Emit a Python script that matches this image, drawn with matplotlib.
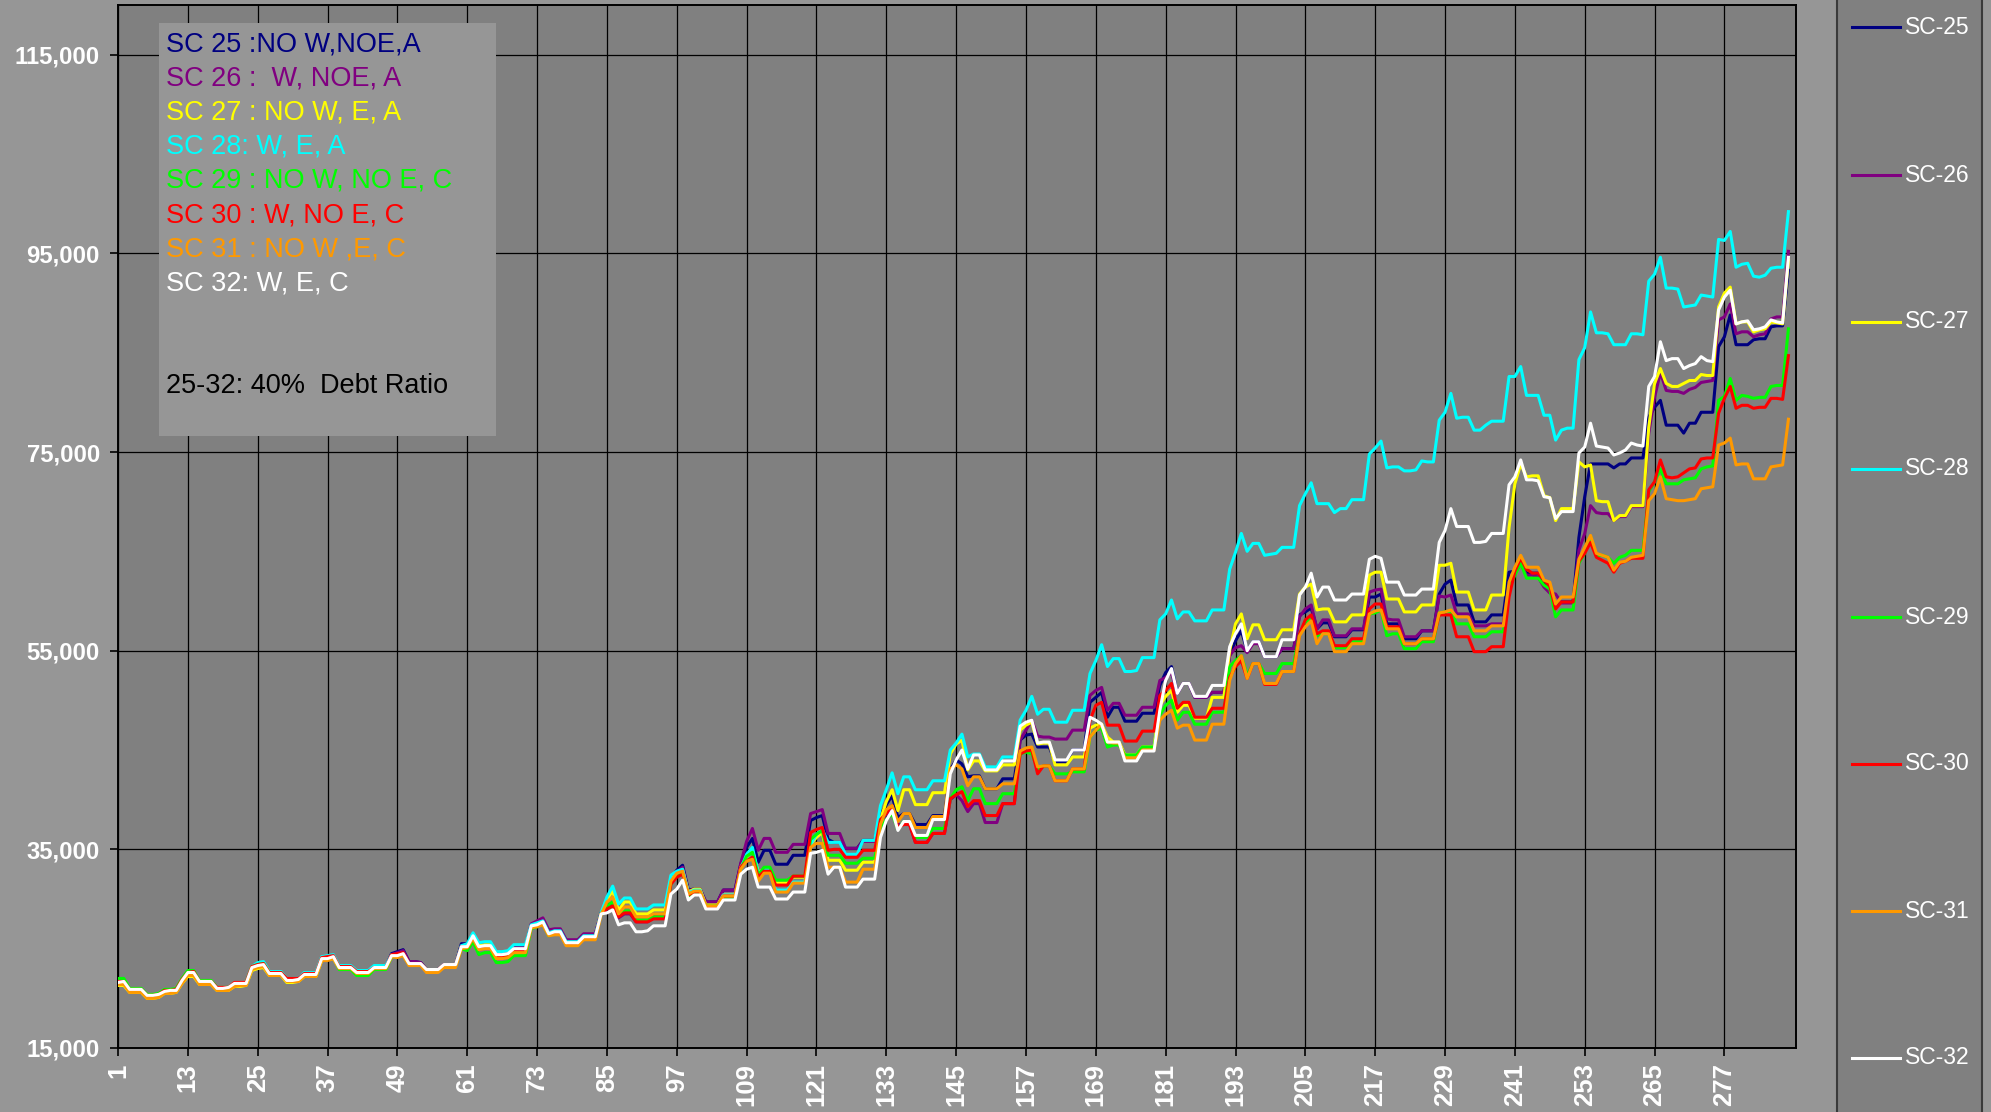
import numpy as np
import matplotlib.pyplot as plt
from matplotlib.lines import Line2D
from matplotlib.patches import Rectangle
from matplotlib.ticker import FuncFormatter

plt.rcParams['font.family'] = ['Liberation Sans', 'DejaVu Sans']

# monthly values in thousands, one row per year (12 months)
sc25 = [21.5, 21.5, 20.8, 20.8, 20.8, 20.2, 20.2, 20.3, 20.7, 20.7, 20.7, 21.7,
        22.5, 22.5, 21.6, 21.6, 21.6, 21.0, 21.0, 21.0, 21.4, 21.4, 21.5, 23.1,
        23.3, 23.4, 22.5, 22.5, 22.5, 21.9, 21.9, 21.9, 22.4, 22.4, 22.4, 24.0,
        24.0, 24.2, 23.2, 23.2, 23.2, 22.7, 22.7, 22.7, 23.2, 23.2, 23.2, 24.5,
        24.7, 24.9, 23.7, 23.7, 23.6, 22.9, 22.9, 22.9, 23.4, 23.4, 23.4, 25.5,
        25.5, 26.3, 25.3, 25.4, 25.4, 24.5, 24.5, 24.5, 25.1, 25.1, 25.1, 27.4,
        27.6, 27.9, 26.7, 26.9, 26.9, 25.8, 25.8, 25.8, 26.4, 26.4, 26.4, 28.6,
        29.0, 29.6, 28.2, 28.6, 28.6, 27.8, 27.8, 27.8, 28.2, 28.2, 28.2, 32.0,
        32.9, 33.4, 30.9, 31.0, 31.0, 29.7, 29.7, 29.7, 30.9, 30.9, 30.9, 33.5,
        35.2, 36.1, 33.7, 34.9, 34.9, 33.5, 33.5, 33.5, 34.4, 34.4, 34.4, 37.9,
        38.2, 38.4, 36.0, 35.7, 35.7, 35.1, 35.1, 35.1, 35.9, 35.9, 35.9, 38.5,
        39.5, 40.4, 38.2, 38.6, 38.6, 37.5, 37.5, 37.5, 38.4, 38.4, 38.4, 43.0,
        44.0, 43.6, 42.3, 42.4, 42.4, 41.1, 41.1, 41.1, 42.1, 42.1, 42.1, 46.0,
        46.5, 46.6, 45.3, 45.3, 45.3, 43.8, 43.8, 43.8, 45.0, 45.0, 45.0, 49.8,
        50.3, 50.8, 48.3, 49.3, 49.3, 47.9, 47.9, 47.9, 48.7, 48.7, 48.7, 51.5,
        52.8, 53.4, 50.7, 51.7, 51.7, 50.3, 50.3, 50.3, 50.8, 50.8, 50.8, 54.5,
        56.0, 57.0, 55.0, 55.9, 55.9, 54.4, 54.4, 54.4, 55.2, 55.2, 55.2, 58.6,
        58.9, 59.3, 57.2, 57.8, 57.8, 56.4, 56.4, 56.4, 57.1, 57.1, 57.1, 60.4,
        60.4, 60.7, 57.7, 57.7, 57.7, 56.2, 56.2, 56.2, 57.0, 57.0, 57.0, 60.7,
        61.7, 62.1, 59.6, 59.6, 59.6, 57.9, 57.9, 57.9, 58.6, 58.6, 58.6, 62.9,
        63.0, 63.9, 62.8, 62.8, 62.8, 61.8, 61.5, 59.7, 59.9, 59.9, 59.9, 66.4,
        70.5, 73.8, 73.8, 73.8, 73.8, 73.4, 73.8, 73.8, 74.4, 74.4, 74.4, 78.5,
        79.5, 80.2, 77.7, 77.7, 77.7, 76.9, 77.9, 77.9, 79.0, 79.0, 79.0, 85.6,
        86.6, 88.8, 85.8, 85.8, 85.8, 86.3, 86.4, 86.4, 87.6, 87.7, 87.7, 93.3]

sc26 = [21.5, 21.5, 20.8, 20.8, 20.8, 20.2, 20.2, 20.3, 20.7, 20.7, 20.7, 21.7,
        22.5, 22.5, 21.6, 21.6, 21.6, 21.0, 21.0, 21.0, 21.4, 21.4, 21.5, 23.1,
        23.3, 23.4, 22.5, 22.5, 22.5, 21.9, 21.9, 21.9, 22.4, 22.4, 22.4, 24.0,
        24.0, 24.2, 23.2, 23.2, 23.2, 22.7, 22.7, 22.7, 23.2, 23.2, 23.2, 24.4,
        24.6, 24.8, 23.7, 23.7, 23.6, 22.9, 22.9, 22.9, 23.4, 23.4, 23.4, 25.3,
        25.4, 26.3, 25.3, 25.4, 25.4, 24.5, 24.5, 24.5, 25.1, 25.1, 25.1, 27.5,
        27.8, 28.1, 26.9, 27.0, 27.0, 25.9, 25.9, 25.9, 26.5, 26.5, 26.5, 28.6,
        29.0, 29.5, 28.1, 28.5, 28.5, 27.7, 27.7, 27.7, 28.1, 28.1, 28.1, 32.0,
        32.7, 33.2, 30.8, 31.0, 31.0, 29.7, 29.7, 29.7, 30.9, 30.9, 30.9, 33.6,
        35.8, 37.1, 34.9, 36.1, 36.1, 34.7, 34.7, 34.7, 35.5, 35.5, 35.5, 38.6,
        38.8, 39.0, 36.6, 36.6, 36.6, 35.1, 35.1, 35.1, 35.8, 35.8, 35.8, 37.8,
        38.5, 39.3, 37.5, 37.5, 37.5, 35.7, 35.7, 35.7, 36.6, 36.6, 36.6, 40.0,
        40.5, 39.9, 38.8, 39.6, 39.6, 37.7, 37.7, 37.7, 39.6, 39.6, 39.6, 46.0,
        47.0, 48.0, 46.4, 46.3, 46.3, 46.1, 46.1, 46.1, 47.0, 47.0, 47.0, 50.5,
        51.0, 51.3, 49.0, 49.7, 49.7, 48.5, 48.5, 48.5, 49.3, 49.3, 49.3, 52.0,
        52.3, 52.8, 50.7, 51.7, 51.7, 50.3, 50.3, 50.3, 50.8, 50.8, 50.8, 54.5,
        55.3, 55.5, 54.8, 55.7, 55.7, 54.4, 54.4, 54.4, 55.2, 55.2, 55.2, 58.4,
        59.2, 59.6, 57.2, 58.1, 58.1, 56.5, 56.5, 56.5, 57.2, 57.2, 57.2, 60.9,
        61.1, 61.2, 58.2, 58.1, 58.1, 56.4, 56.4, 56.4, 57.0, 57.0, 57.0, 60.5,
        60.4, 60.6, 58.7, 58.7, 58.7, 57.5, 57.5, 57.5, 57.7, 57.7, 57.7, 61.5,
        62.8, 63.8, 62.6, 62.6, 62.4, 61.4, 60.8, 60.7, 59.8, 59.8, 59.8, 65.1,
        66.8, 69.6, 68.9, 68.8, 68.8, 68.1, 68.5, 68.5, 69.5, 69.5, 69.5, 76.9,
        80.5, 83.0, 81.2, 81.1, 81.1, 80.9, 81.3, 81.5, 82.0, 82.1, 82.2, 88.3,
        88.6, 89.9, 86.9, 87.1, 87.1, 86.6, 86.8, 86.9, 88.4, 88.6, 88.6, 95.2]

sc27 = [21.3, 21.3, 20.6, 20.6, 20.6, 20.0, 20.0, 20.1, 20.5, 20.5, 20.6, 21.5,
        22.2, 22.2, 21.4, 21.4, 21.4, 20.8, 20.8, 20.8, 21.2, 21.2, 21.3, 22.8,
        23.0, 23.1, 22.3, 22.3, 22.3, 21.6, 21.6, 21.7, 22.2, 22.2, 22.2, 23.8,
        23.9, 24.0, 23.0, 23.0, 23.0, 22.5, 22.5, 22.5, 23.0, 23.0, 23.0, 24.2,
        24.2, 24.4, 23.4, 23.4, 23.4, 22.8, 22.8, 22.8, 23.3, 23.3, 23.3, 25.2,
        25.3, 26.2, 25.3, 25.4, 25.4, 24.2, 24.2, 24.3, 24.9, 24.9, 24.9, 27.2,
        27.3, 27.5, 26.4, 26.5, 26.5, 25.4, 25.4, 25.4, 26.0, 26.0, 26.0, 28.5,
        30.0, 30.8, 28.8, 29.7, 29.7, 28.5, 28.5, 28.5, 28.9, 28.9, 28.9, 32.0,
        32.5, 32.9, 30.7, 31.0, 31.0, 29.4, 29.4, 29.4, 30.4, 30.4, 30.4, 33.2,
        34.2, 34.9, 32.7, 33.0, 33.0, 31.6, 31.6, 31.6, 32.2, 32.2, 32.2, 35.5,
        36.2, 36.7, 33.9, 33.9, 33.9, 32.9, 32.9, 32.9, 33.7, 33.7, 33.7, 38.0,
        39.8, 41.0, 38.9, 41.0, 41.0, 39.5, 39.5, 39.5, 40.7, 40.7, 40.7, 44.6,
        45.6, 46.0, 43.0, 43.9, 43.9, 42.9, 42.9, 42.9, 43.5, 43.5, 43.5, 47.0,
        47.5, 47.8, 45.6, 45.7, 45.7, 43.5, 43.5, 43.5, 44.3, 44.3, 44.3, 47.2,
        47.5, 47.6, 46.3, 45.8, 45.8, 44.5, 44.5, 44.5, 45.3, 45.3, 45.3, 49.5,
        50.4, 51.0, 48.8, 49.5, 49.5, 48.2, 48.2, 48.2, 50.3, 50.3, 50.3, 55.0,
        57.7, 58.7, 56.2, 57.6, 57.6, 56.1, 56.1, 56.1, 57.1, 57.1, 57.1, 60.7,
        61.4, 61.7, 59.1, 59.2, 59.2, 57.9, 57.9, 57.9, 58.6, 58.6, 58.6, 62.6,
        62.9, 62.9, 60.2, 60.2, 60.2, 58.9, 58.9, 58.9, 59.6, 59.6, 59.6, 63.6,
        63.6, 63.8, 60.9, 60.9, 60.9, 59.1, 59.1, 59.1, 60.6, 60.6, 60.6, 67.4,
        71.8, 73.8, 72.5, 72.6, 72.6, 70.6, 70.4, 68.1, 69.3, 69.3, 69.3, 74.0,
        73.5, 73.7, 70.1, 70.0, 70.0, 68.1, 68.6, 68.6, 69.6, 69.6, 69.6, 77.5,
        81.9, 83.4, 81.9, 81.6, 81.6, 81.9, 82.2, 82.2, 82.8, 82.7, 82.7, 89.6,
        91.0, 91.6, 87.9, 88.1, 88.1, 87.1, 87.3, 87.4, 88.1, 88.0, 87.9, 94.3]

sc28 = [21.6, 21.6, 20.8, 20.8, 20.8, 20.3, 20.3, 20.4, 20.8, 20.8, 20.8, 21.8,
        22.5, 22.5, 21.6, 21.6, 21.6, 21.0, 21.0, 21.1, 21.5, 21.5, 21.5, 23.2,
        23.6, 23.7, 22.7, 22.7, 22.7, 22.0, 22.0, 22.0, 22.6, 22.6, 22.6, 24.2,
        24.3, 24.4, 23.3, 23.3, 23.3, 22.8, 22.8, 22.8, 23.3, 23.3, 23.3, 24.4,
        24.4, 24.5, 23.5, 23.5, 23.5, 22.9, 22.9, 22.9, 23.4, 23.4, 23.4, 25.3,
        25.5, 26.6, 25.6, 25.7, 25.7, 24.7, 24.7, 24.8, 25.4, 25.4, 25.4, 27.4,
        27.6, 27.8, 26.6, 26.8, 26.8, 25.7, 25.7, 25.7, 26.3, 26.3, 26.3, 28.6,
        30.2, 31.3, 29.5, 30.1, 30.1, 29.0, 29.0, 29.0, 29.4, 29.4, 29.4, 32.4,
        32.8, 33.0, 30.6, 30.9, 30.9, 29.2, 29.2, 29.2, 30.4, 30.4, 30.4, 33.0,
        34.5, 35.2, 32.6, 33.0, 33.0, 30.9, 30.9, 30.9, 31.7, 31.7, 31.7, 35.5,
        36.5, 37.0, 35.7, 35.7, 35.7, 34.5, 34.5, 34.5, 35.9, 35.9, 35.9, 39.4,
        41.0, 42.7, 40.6, 42.3, 42.3, 41.0, 41.0, 41.0, 41.9, 41.9, 41.9, 45.0,
        45.7, 46.6, 44.3, 44.6, 44.6, 43.3, 43.3, 43.3, 44.3, 44.3, 44.3, 48.0,
        49.0, 50.4, 48.6, 49.1, 49.1, 47.8, 47.8, 47.8, 49.0, 49.0, 49.0, 52.7,
        54.0, 55.6, 53.4, 54.2, 54.2, 52.9, 52.9, 53.0, 54.3, 54.3, 54.3, 58.1,
        58.7, 60.1, 58.2, 58.9, 58.9, 58.0, 58.0, 58.0, 59.1, 59.1, 59.1, 63.2,
        64.9, 66.8, 65.0, 65.8, 65.8, 64.6, 64.7, 64.8, 65.4, 65.4, 65.4, 69.6,
        70.8, 71.9, 69.8, 69.8, 69.8, 68.9, 69.3, 69.3, 70.2, 70.2, 70.2, 74.8,
        75.4, 76.1, 73.4, 73.5, 73.5, 73.1, 73.1, 73.2, 74.1, 74.0, 74.0, 78.2,
        79.0, 80.9, 78.4, 78.5, 78.5, 77.2, 77.2, 77.7, 78.1, 78.1, 78.1, 82.6,
        82.6, 83.6, 80.7, 80.7, 80.7, 78.7, 78.7, 76.2, 77.2, 77.4, 77.4, 84.3,
        85.5, 89.1, 87.0, 87.0, 86.9, 85.8, 85.8, 85.8, 86.9, 86.9, 86.8, 92.2,
        92.9, 94.6, 91.5, 91.5, 91.4, 89.6, 89.7, 89.8, 90.8, 90.7, 90.6, 96.4,
        96.3, 97.2, 93.6, 93.9, 94.0, 92.7, 92.6, 92.8, 93.5, 93.6, 93.6, 99.2]

sc29 = [22.0, 22.0, 21.0, 21.0, 21.0, 20.4, 20.4, 20.5, 20.9, 20.9, 21.0, 22.0,
        22.8, 22.8, 21.8, 21.8, 21.8, 21.1, 21.1, 21.1, 21.5, 21.5, 21.6, 23.2,
        23.4, 23.5, 22.6, 22.6, 22.6, 21.9, 21.9, 21.9, 22.4, 22.4, 22.4, 24.0,
        24.1, 24.2, 22.9, 22.9, 22.9, 22.3, 22.3, 22.3, 22.9, 22.9, 22.9, 24.2,
        24.2, 24.4, 23.4, 23.4, 23.4, 22.8, 22.8, 22.8, 23.3, 23.3, 23.3, 25.0,
        24.8, 25.7, 24.4, 24.6, 24.6, 23.6, 23.6, 23.7, 24.3, 24.3, 24.3, 27.0,
        27.2, 27.5, 26.3, 26.5, 26.5, 25.5, 25.5, 25.5, 26.1, 26.1, 26.1, 28.5,
        29.3, 29.7, 28.3, 28.8, 28.8, 27.9, 27.9, 27.9, 28.2, 28.2, 28.2, 31.5,
        32.4, 32.6, 30.3, 30.6, 30.6, 29.3, 29.3, 29.3, 30.2, 30.2, 30.2, 33.0,
        34.3, 34.7, 32.4, 33.2, 33.2, 31.9, 31.9, 31.9, 32.3, 32.3, 32.3, 36.0,
        36.5, 36.9, 34.4, 34.4, 34.4, 33.6, 33.6, 33.6, 34.1, 34.1, 34.1, 37.2,
        38.0, 38.6, 37.0, 37.8, 37.8, 36.2, 36.2, 36.2, 37.1, 37.1, 37.1, 40.1,
        41.0, 41.3, 39.9, 41.1, 41.1, 39.6, 39.6, 39.6, 40.6, 40.6, 40.6, 44.6,
        44.8, 44.6, 43.1, 43.4, 43.4, 42.6, 42.6, 42.6, 42.8, 42.8, 42.8, 46.3,
        47.0, 47.2, 45.3, 45.5, 45.5, 44.5, 44.5, 44.5, 45.3, 45.3, 45.3, 48.5,
        49.5, 50.0, 48.0, 48.8, 48.8, 47.6, 47.6, 47.6, 48.8, 48.8, 48.8, 53.4,
        54.0, 54.5, 52.5, 53.7, 53.7, 52.7, 52.7, 52.7, 53.7, 53.7, 53.7, 56.7,
        57.9, 58.2, 56.5, 56.7, 56.7, 55.3, 55.3, 55.3, 55.9, 55.9, 55.9, 58.7,
        58.8, 59.1, 56.5, 56.7, 56.7, 55.2, 55.2, 55.2, 55.9, 55.9, 55.9, 58.8,
        58.9, 59.0, 57.7, 57.7, 57.7, 56.4, 56.4, 56.4, 56.9, 56.9, 56.9, 61.2,
        62.6, 63.8, 62.3, 62.3, 62.3, 61.6, 61.2, 58.4, 59.1, 59.1, 59.1, 63.8,
        64.8, 66.5, 64.6, 64.6, 64.4, 63.8, 64.4, 64.6, 65.1, 65.1, 65.1, 71.0,
        72.0, 73.3, 71.8, 71.8, 71.8, 72.2, 72.3, 72.4, 73.3, 73.5, 73.6, 80.2,
        80.6, 82.4, 80.2, 80.7, 80.6, 80.4, 80.5, 80.5, 81.6, 81.7, 81.7, 87.4]

sc30 = [21.7, 21.7, 20.9, 20.9, 20.9, 20.3, 20.3, 20.4, 20.8, 20.8, 20.9, 21.9,
        22.6, 22.7, 21.7, 21.7, 21.7, 21.1, 21.1, 21.1, 21.6, 21.6, 21.6, 23.2,
        23.4, 23.5, 22.6, 22.6, 22.6, 22.0, 22.0, 22.0, 22.5, 22.5, 22.5, 24.1,
        24.2, 24.3, 23.2, 23.2, 23.2, 22.7, 22.7, 22.7, 23.1, 23.1, 23.1, 24.4,
        24.5, 24.6, 23.5, 23.5, 23.5, 22.9, 22.9, 22.9, 23.4, 23.4, 23.4, 25.2,
        25.1, 26.1, 25.0, 25.1, 25.1, 24.1, 24.1, 24.2, 24.8, 24.8, 24.8, 27.2,
        27.3, 27.5, 26.4, 26.6, 26.6, 25.5, 25.5, 25.5, 26.1, 26.1, 26.1, 28.5,
        29.0, 29.3, 28.2, 28.6, 28.6, 27.7, 27.7, 27.7, 28.0, 28.0, 28.0, 31.5,
        32.2, 32.5, 30.4, 30.7, 30.7, 29.2, 29.2, 29.2, 30.3, 30.3, 30.3, 33.2,
        33.8, 34.2, 32.2, 32.8, 32.8, 31.4, 31.4, 31.4, 32.3, 32.3, 32.3, 36.7,
        37.0, 37.2, 34.9, 35.0, 35.0, 34.2, 34.2, 34.2, 34.9, 34.9, 34.9, 38.0,
        38.6, 39.4, 37.2, 37.5, 37.5, 35.7, 35.7, 35.7, 36.6, 36.6, 36.6, 40.1,
        40.5, 40.8, 39.3, 39.9, 39.9, 38.4, 38.4, 38.4, 39.6, 39.6, 39.6, 44.6,
        44.9, 45.0, 42.6, 43.4, 43.4, 41.9, 41.9, 41.9, 43.1, 43.1, 43.1, 48.0,
        49.5, 49.8, 47.5, 47.5, 47.5, 45.9, 45.9, 45.9, 46.9, 46.9, 46.9, 50.5,
        51.0, 51.7, 49.2, 49.8, 49.8, 48.3, 48.3, 48.3, 49.2, 49.2, 49.2, 52.3,
        53.4, 54.0, 52.2, 53.7, 53.7, 51.6, 51.6, 51.6, 52.9, 52.9, 52.9, 56.7,
        58.1, 58.6, 56.7, 57.0, 57.0, 55.5, 55.5, 55.5, 56.2, 56.2, 56.2, 59.2,
        59.7, 59.7, 57.4, 57.4, 57.4, 55.7, 55.7, 55.7, 56.2, 56.2, 56.2, 58.6,
        58.6, 58.6, 56.4, 56.4, 56.4, 54.9, 54.9, 54.9, 55.4, 55.4, 55.4, 60.4,
        63.0, 64.3, 63.2, 62.8, 62.8, 62.1, 61.5, 59.2, 59.9, 59.9, 59.9, 64.0,
        64.8, 65.9, 64.4, 64.1, 63.8, 62.9, 63.8, 64.0, 64.3, 64.3, 64.3, 71.2,
        72.0, 74.2, 72.5, 72.4, 72.5, 72.9, 73.3, 73.4, 74.3, 74.4, 74.4, 78.9,
        80.4, 81.6, 79.4, 79.7, 79.7, 79.4, 79.5, 79.5, 80.4, 80.4, 80.3, 84.7]

sc31 = [21.4, 21.4, 20.6, 20.6, 20.6, 20.0, 20.0, 20.1, 20.5, 20.5, 20.6, 21.5,
        22.3, 22.3, 21.4, 21.4, 21.4, 20.8, 20.8, 20.8, 21.2, 21.3, 21.3, 22.9,
        23.1, 23.2, 22.3, 22.3, 22.3, 21.7, 21.7, 21.7, 22.2, 22.2, 22.2, 23.8,
        23.8, 24.0, 23.0, 23.0, 23.0, 22.5, 22.5, 22.5, 23.0, 23.0, 23.0, 24.2,
        24.1, 24.3, 23.3, 23.3, 23.3, 22.6, 22.6, 22.6, 23.1, 23.1, 23.1, 25.0,
        25.1, 26.0, 24.9, 25.0, 25.0, 24.0, 24.0, 24.1, 24.6, 24.6, 24.6, 27.1,
        27.2, 27.4, 26.3, 26.4, 26.4, 25.3, 25.3, 25.3, 25.9, 25.9, 25.9, 28.4,
        29.7, 30.2, 28.5, 29.2, 29.2, 28.2, 28.2, 28.2, 28.5, 28.5, 28.5, 31.8,
        32.6, 32.8, 30.5, 30.8, 30.8, 29.3, 29.3, 29.3, 30.3, 30.3, 30.3, 33.0,
        33.8, 34.0, 31.8, 32.6, 32.6, 30.7, 30.7, 30.7, 31.6, 31.6, 31.6, 35.2,
        35.6, 35.6, 33.2, 33.2, 33.2, 31.7, 31.7, 31.7, 33.0, 33.0, 33.0, 37.5,
        39.0, 39.4, 37.8, 38.6, 38.6, 37.2, 37.2, 37.2, 38.3, 38.3, 38.3, 43.1,
        43.5, 43.1, 41.4, 42.3, 42.3, 41.1, 41.1, 41.1, 41.6, 41.6, 41.6, 44.9,
        45.2, 45.3, 43.3, 43.4, 43.4, 41.9, 41.9, 41.9, 43.1, 43.1, 43.1, 46.3,
        47.0, 47.6, 45.8, 45.7, 45.7, 44.2, 44.2, 44.2, 45.0, 45.0, 45.0, 48.0,
        48.6, 49.0, 47.2, 47.5, 47.5, 46.0, 46.0, 46.0, 47.6, 47.6, 47.6, 52.0,
        53.7, 54.5, 52.2, 53.7, 53.7, 51.7, 51.7, 51.7, 52.9, 52.9, 52.9, 56.5,
        57.4, 58.0, 55.7, 56.7, 56.7, 54.9, 54.9, 54.9, 55.7, 55.7, 55.7, 58.7,
        59.0, 59.1, 57.2, 57.2, 57.2, 55.7, 55.7, 55.7, 56.2, 56.2, 56.2, 58.8,
        58.9, 59.1, 58.4, 58.4, 58.4, 57.0, 57.0, 57.0, 57.5, 57.5, 57.5, 61.9,
        63.4, 64.6, 63.4, 63.4, 63.4, 62.1, 61.9, 59.7, 60.4, 60.4, 60.4, 64.2,
        65.4, 66.6, 64.8, 64.6, 64.4, 63.1, 63.9, 64.0, 64.4, 64.5, 64.6, 70.1,
        70.8, 72.5, 70.3, 70.2, 70.1, 70.1, 70.2, 70.3, 71.3, 71.4, 71.5, 75.7,
        75.9, 76.4, 73.7, 73.8, 73.8, 72.3, 72.3, 72.3, 73.5, 73.6, 73.7, 78.3]

sc32 = [21.6, 21.7, 20.9, 20.9, 20.9, 20.3, 20.3, 20.4, 20.7, 20.8, 20.8, 21.8,
        22.6, 22.6, 21.7, 21.7, 21.7, 21.0, 21.0, 21.1, 21.5, 21.5, 21.5, 23.1,
        23.3, 23.4, 22.5, 22.5, 22.5, 21.8, 21.8, 21.9, 22.4, 22.4, 22.4, 24.0,
        24.0, 24.2, 23.1, 23.1, 23.1, 22.6, 22.6, 22.6, 23.1, 23.1, 23.1, 24.3,
        24.3, 24.5, 23.5, 23.5, 23.5, 22.9, 22.9, 22.9, 23.4, 23.4, 23.4, 25.2,
        25.2, 26.3, 25.2, 25.3, 25.3, 24.4, 24.4, 24.5, 25.0, 25.0, 25.0, 27.3,
        27.4, 27.7, 26.5, 26.7, 26.7, 25.6, 25.6, 25.6, 26.2, 26.2, 26.2, 28.5,
        28.6, 28.9, 27.4, 27.6, 27.6, 26.7, 26.7, 26.8, 27.3, 27.3, 27.3, 30.5,
        31.0, 31.9, 29.9, 30.4, 30.4, 29.0, 29.0, 29.0, 29.9, 29.9, 29.9, 32.5,
        33.0, 33.2, 31.2, 31.2, 31.2, 30.0, 30.0, 30.0, 30.7, 30.7, 30.7, 34.6,
        34.7, 34.9, 32.5, 33.2, 33.2, 31.2, 31.2, 31.2, 32.0, 32.0, 32.0, 36.2,
        37.9, 38.9, 36.9, 37.8, 37.8, 36.4, 36.4, 36.4, 38.0, 38.0, 38.0, 42.6,
        44.0, 45.0, 43.1, 44.5, 44.5, 43.0, 43.0, 43.0, 43.9, 43.9, 43.9, 47.4,
        47.8, 48.0, 45.7, 45.8, 45.8, 44.0, 44.0, 44.0, 45.0, 45.0, 45.0, 48.3,
        48.0, 47.6, 45.8, 45.8, 45.8, 43.9, 43.9, 43.9, 44.9, 44.9, 44.9, 49.0,
        52.0, 53.2, 50.7, 51.7, 51.7, 50.4, 50.4, 50.4, 51.5, 51.5, 51.5, 55.4,
        56.7, 57.7, 55.0, 55.9, 55.9, 54.4, 54.4, 54.4, 56.1, 56.1, 56.1, 60.6,
        61.4, 62.8, 60.4, 61.4, 61.4, 60.1, 60.1, 60.1, 60.7, 60.7, 60.7, 64.2,
        64.5, 64.3, 61.9, 61.9, 61.9, 60.6, 60.6, 60.6, 61.2, 61.2, 61.2, 65.9,
        67.1, 69.3, 67.5, 67.5, 67.5, 65.9, 65.9, 66.0, 66.8, 66.8, 66.8, 71.7,
        72.5, 74.2, 72.2, 72.2, 72.1, 70.5, 70.4, 68.3, 69.0, 69.0, 69.0, 74.9,
        75.5, 77.9, 75.6, 75.5, 75.4, 74.7, 74.9, 75.2, 75.9, 75.7, 75.6, 81.6,
        82.6, 86.1, 84.2, 84.4, 84.4, 83.4, 83.7, 83.9, 84.6, 84.2, 84.1, 89.3,
        90.6, 91.3, 87.9, 88.1, 88.2, 87.3, 87.4, 87.6, 88.3, 88.1, 88.0, 94.6]

names = ['SC-25', 'SC-26', 'SC-27', 'SC-28', 'SC-29', 'SC-30', 'SC-31', 'SC-32']
colors = ['#000080', '#800080', '#FFFF00', '#00FFFF', '#00FF00', '#FF0000', '#FF9900', '#FFFFFF']
data = [sc25, sc26, sc27, sc28, sc29, sc30, sc31, sc32]

notes = ['SC 25 :NO W,NOE,A', 'SC 26 :  W, NOE, A', 'SC 27 : NO W, E, A',
         'SC 28: W, E, A', 'SC 29 : NO W, NO E, C', 'SC 30 : W, NO E, C',
         'SC 31 : NO W ,E, C', 'SC 32: W, E, C']
note_extra = '25-32: 40%  Debt Ratio'

W, H = 1991, 1112
fig = plt.figure(figsize=(W / 100, H / 100), dpi=100, facecolor='#969696')
ax = fig.add_axes([118 / W, 1 - 1048 / H, (1796 - 118) / W, (1048 - 5) / H])
ax.set_facecolor('#808080')

for vals, col in zip(data, colors):
    v = np.array(vals) * 1000
    ax.plot(np.arange(1, len(v) + 1), v, color=col, lw=2.2, zorder=3)

ax.set_xlim(1, 289.3)
ax.set_ylim(15000, 120000)
xt = np.arange(1, 289, 12)
ax.set_xticks(xt)
ax.set_xticklabels([str(t) for t in xt], rotation=90)
ax.set_yticks(np.arange(15000, 120001, 20000))
ax.yaxis.set_major_formatter(FuncFormatter(lambda v, p: f'{v:,.0f}'))
ax.grid(True, color='black', lw=0.9, zorder=1)
ax.set_axisbelow(True)
ax.tick_params(axis='both', direction='out', length=6, width=1.2, color='black',
               labelcolor='white')
ax.tick_params(axis='y', pad=7, labelsize=17.2)
ax.tick_params(axis='x', pad=5, labelsize=18.5)
for lbl in ax.get_xticklabels() + ax.get_yticklabels():
    lbl.set_fontweight('bold')
for s in ax.spines.values():
    s.set_color('black')
    s.set_linewidth(1.4)

# notes box
fig.add_artist(Rectangle((159 / W, 1 - 436 / H), 337 / W, 413 / H,
                         transform=fig.transFigure, facecolor='#969696',
                         edgecolor='none', zorder=5))
ys = [44.2, 78.5, 112.5, 146.8, 180.8, 215.2, 249.2, 283.5]
for txt, col, y in zip(notes, colors, ys):
    fig.text(166 / W, 1 - y / H, txt, color=col, fontsize=19.5,
             va='center', ha='left', zorder=6)
fig.text(166 / W, 1 - 385.8 / H, note_extra, color='black', fontsize=19.5,
         va='center', ha='left', zorder=6)

# legend panel
fig.add_artist(Rectangle((1837 / W, -0.01), (1982 - 1837) / W, 1.02,
                         transform=fig.transFigure, facecolor='#808080',
                         edgecolor='#3a3a3a', lw=1.5, zorder=5))
leg_y = [27, 175, 322, 469, 617, 764, 911, 1058]
for name, col, y in zip(names, colors, leg_y):
    fy = 1 - y / H
    fig.add_artist(Line2D([1852 / W, 1900 / W], [fy, fy], color=col, lw=2.2,
                          transform=fig.transFigure, zorder=6))
    fig.text(1905 / W, fy, name, color='white', fontsize=16.5,
             va='center', ha='left', zorder=6)

fig.savefig('out.png', dpi=100, facecolor=fig.get_facecolor())
